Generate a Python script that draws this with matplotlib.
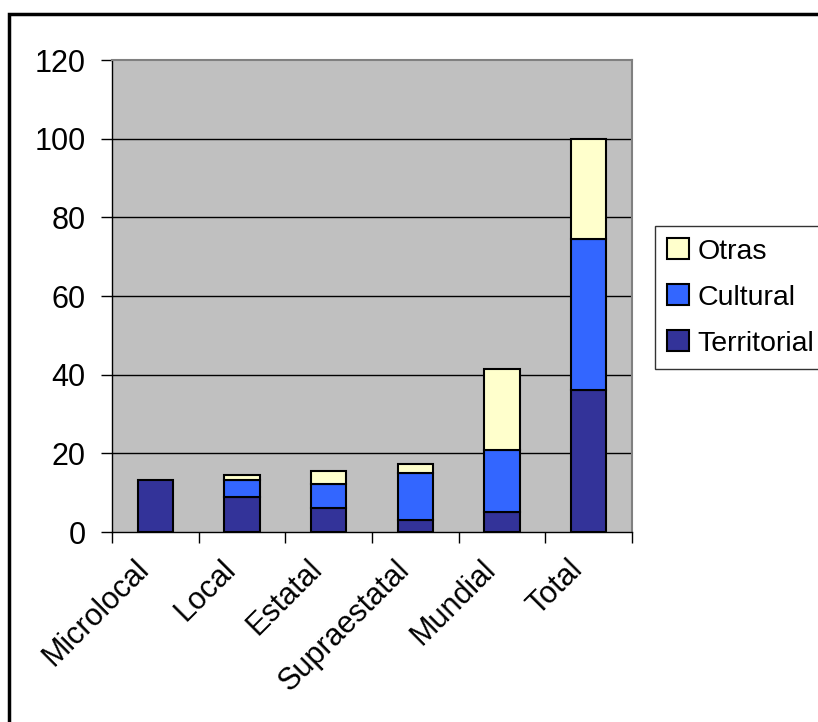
import numpy as np
import matplotlib
matplotlib.use("Agg")
import matplotlib.pyplot as plt
from matplotlib.patches import Rectangle, Patch

plt.rcParams['font.family'] = ['Liberation Sans', 'DejaVu Sans']

# datos
categorias = ["Microlocal", "Local", "Estatal", "Supraestatal", "Mundial", "Total"]
territorial = [13.3, 9, 6, 3, 5, 36]
cultural = [0, 4.2, 6.2, 12.1, 15.8, 38.5]
otras = [0, 1.2, 3.2, 2.3, 20.6, 25.5]

c_terr = "#333399"
c_cult = "#3366FF"
c_otras = "#FFFFCC"

fig = plt.figure(figsize=(8.18, 7.22), dpi=100)
ax = fig.add_axes([112/818, 1-532/722, 520/818, 472/722])
ax.set_facecolor("#C0C0C0")

x = np.arange(len(categorias))
w = 0.41
terr = np.array(territorial)
cult = np.array(cultural)
otr = np.array(otras)

ax.bar(x, terr, w, color=c_terr, edgecolor="black", linewidth=1.5, zorder=3)
m = cult > 0
ax.bar(x[m], cult[m], w, bottom=terr[m], color=c_cult, edgecolor="black", linewidth=1.5, zorder=3)
m = otr > 0
ax.bar(x[m], otr[m], w, bottom=(terr+cult)[m], color=c_otras, edgecolor="black", linewidth=1.5, zorder=3)

ax.set_xlim(-0.5, len(categorias)-0.5)
ax.set_ylim(0, 120)
ax.set_yticks(np.arange(0, 121, 20))
for yv in range(20, 120, 20):
    ax.axhline(yv, color="black", lw=1, zorder=1)

ax.set_xticks(np.arange(-0.5, len(categorias), 1))
ax.set_xticklabels([])
ax.set_xticks(x, minor=True)
ax.set_xticklabels(categorias, minor=True, rotation=45, ha="right", va="top", fontsize=22)
ax.tick_params(axis="x", which="minor", length=0, pad=16)
ax.tick_params(axis="x", which="major", length=8, width=1, direction="out")
ax.tick_params(axis="y", length=8, width=1, direction="out", pad=11, labelsize=22)

ax.spines["top"].set_color("#808080")
ax.spines["right"].set_color("#808080")
ax.spines["top"].set_linewidth(1.5)
ax.spines["right"].set_linewidth(1.5)
ax.spines["left"].set_linewidth(1)
ax.spines["bottom"].set_linewidth(1)

handles = [Patch(facecolor=c_otras, edgecolor="black", linewidth=1.5),
           Patch(facecolor=c_cult, edgecolor="black", linewidth=1.5),
           Patch(facecolor=c_terr, edgecolor="black", linewidth=1.5)]
leg = fig.legend(handles, ["Otras", "Cultural", "Territorial"],
                 loc="upper left", bbox_to_anchor=(655/818, 1-226/722),
                 bbox_transform=fig.transFigure, fontsize=20.5,
                 fancybox=False, frameon=True, borderaxespad=0,
                 handlelength=0.75, handleheight=0.75, handletextpad=0.3,
                 labelspacing=0.69, borderpad=0.43)
leg.get_frame().set_edgecolor("black")
leg.get_frame().set_linewidth(1)

# marco exterior
fig.patches.append(Rectangle((9/818, -0.05), 1.1, 1-14/722+0.05, transform=fig.transFigure,
                             fill=False, edgecolor="black", linewidth=2.5, clip_on=False))

fig.savefig("out.png", dpi=100)
